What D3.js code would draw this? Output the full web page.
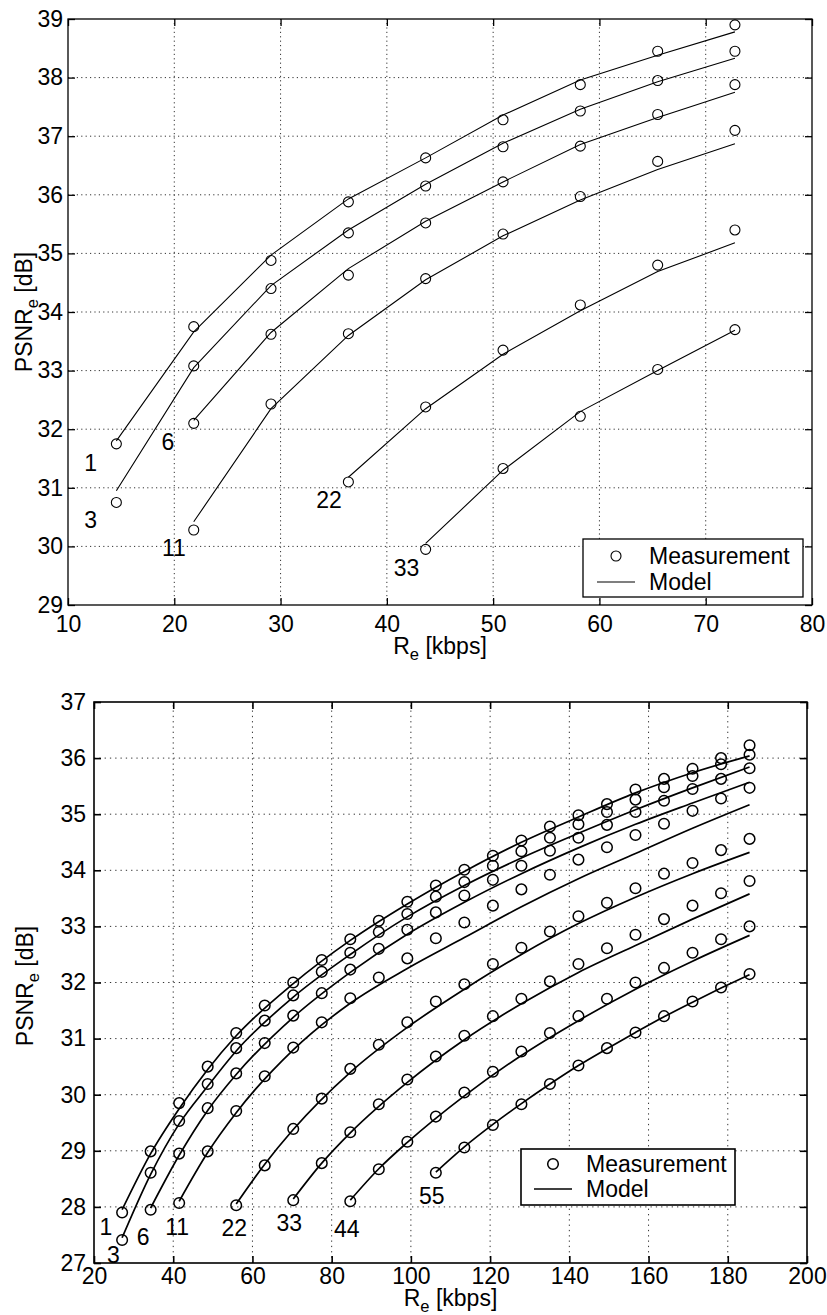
<!DOCTYPE html>
<html>
<head>
<meta charset="utf-8">
<script src="https://cdn.jsdelivr.net/npm/d3@7"></script>
<style>
body { margin: 0; background: #fff; }
text { font-family: "Liberation Sans", Arial, Helvetica, sans-serif; fill: #000; white-space: pre; }
</style>
</head>
<body>
<svg id="chart" width="827" height="1315"></svg>
<script>
// ---------- upper panel ----------
var topRates = [14.55, 21.83, 29.1, 36.38, 43.65, 50.93, 58.2, 65.48, 72.75];
var topXTicks = [10, 20, 30, 40, 50, 60, 70, 80];
var topYTicks = [29, 30, 31, 32, 33, 34, 35, 36, 37, 38, 39];

// measurement per curve (first value sits at topRates[start])
var topMeas1  = [31.75, 33.75, 34.88, 35.88, 36.63, 37.28, 37.88, 38.45, 38.9];
var topMeas3  = [30.75, 33.08, 34.4, 35.35, 36.15, 36.82, 37.43, 37.95, 38.45];
var topMeas6  = [32.1, 33.62, 34.63, 35.52, 36.22, 36.83, 37.37, 37.88];
var topMeas11 = [30.28, 32.43, 33.63, 34.57, 35.33, 35.97, 36.57, 37.1];
var topMeas22 = [31.1, 32.38, 33.35, 34.12, 34.8, 35.4];
var topMeas33 = [29.95, 31.33, 32.22, 33.02, 33.7];

// model per curve, same rates
var topModel1  = [31.8, 33.66, 34.97, 35.93, 36.63, 37.36, 37.96, 38.38, 38.78];
var topModel3  = [30.95, 33.05, 34.45, 35.4, 36.18, 36.88, 37.46, 37.93, 38.33];
var topModel6  = [32.15, 33.65, 34.74, 35.55, 36.22, 36.86, 37.32, 37.75];
var topModel11 = [30.42, 32.35, 33.6, 34.55, 35.3, 35.91, 36.43, 36.87];
var topModel22 = [31.18, 32.35, 33.28, 34.02, 34.69, 35.18];
var topModel33 = [30.05, 31.3, 32.3, 33.0, 33.69];

var topStart  = [0, 0, 1, 1, 3, 4];
var topNames  = ["1", "3", "6", "11", "22", "33"];
var topLabelX = [12.13, 12.13, 19.41, 19.97, 34.55, 41.86];
var topLabelY = [31.42, 30.45, 31.79, 29.97, 30.79, 29.63];

// ---------- lower panel ----------
var botRates = [27.1, 34.3, 41.5, 48.7, 55.9, 63.1, 70.3, 77.5, 84.7, 91.9, 99.1, 106.3,
                113.5, 120.7, 127.9, 135.1, 142.3, 149.5, 156.7, 163.9, 171.1, 178.3, 185.5];
var botXTicks = [20, 40, 60, 80, 100, 120, 140, 160, 180, 200];
var botYTicks = [27, 28, 29, 30, 31, 32, 33, 34, 35, 36, 37];

var botMeas1  = [27.9, 28.99, 29.85, 30.5, 31.1, 31.59, 32.0, 32.4, 32.77, 33.1, 33.44, 33.73,
                 34.01, 34.26, 34.53, 34.78, 34.98, 35.18, 35.44, 35.63, 35.81, 36.0, 36.23];
var botMeas3  = [27.41, 28.61, 29.53, 30.19, 30.83, 31.32, 31.77, 32.19, 32.53, 32.9, 33.22, 33.53,
                 33.79, 34.08, 34.34, 34.58, 34.82, 35.04, 35.26, 35.48, 35.68, 35.89, 36.06];
var botMeas6  = [27.95, 28.95, 29.76, 30.38, 30.92, 31.41, 31.81, 32.23, 32.6, 32.94, 33.25,
                 33.55, 33.83, 34.08, 34.35, 34.58, 34.81, 35.04, 35.24, 35.45, 35.63, 35.82];
var botMeas11 = [28.07, 28.99, 29.71, 30.33, 30.84, 31.29, 31.72, 32.09, 32.43, 32.79, 33.07,
                 33.37, 33.66, 33.92, 34.19, 34.41, 34.63, 34.83, 35.06, 35.28, 35.47];
var botMeas22 = [28.03, 28.74, 29.39, 29.93, 30.46, 30.89, 31.29, 31.66, 31.97, 32.33, 32.62,
                 32.91, 33.18, 33.42, 33.68, 33.94, 34.13, 34.36, 34.56];
var botMeas33 = [28.12, 28.78, 29.33, 29.83, 30.27, 30.68, 31.05, 31.4, 31.71, 32.02, 32.33,
                 32.61, 32.85, 33.13, 33.37, 33.59, 33.81];
var botMeas44 = [28.1, 28.67, 29.16, 29.61, 30.04, 30.41, 30.77, 31.1, 31.4, 31.71, 32.0,
                 32.26, 32.53, 32.77, 33.0];
var botMeas55 = [28.61, 29.06, 29.46, 29.83, 30.19, 30.52, 30.83, 31.11, 31.4, 31.66, 31.91, 32.15];

// model curves as [rate, psnr] knots
var botModel1  = [[27.1,27.95],[34.3,28.95],[41.5,29.75],[48.7,30.45],[55.9,31.05],[70.3,31.98],[84.7,32.75],
                  [99.1,33.4],[113.5,33.98],[127.9,34.5],[142.3,34.95],[156.7,35.38],[171.1,35.74],[185.5,36.04]];
var botModel3  = [[27.1,27.45],[34.3,28.58],[41.5,29.48],[48.7,30.15],[55.9,30.78],[70.3,31.74],[84.7,32.5],
                  [99.1,33.17],[113.5,33.73],[127.9,34.22],[142.3,34.66],[156.7,35.08],[171.1,35.47],[185.5,35.84]];
var botModel6  = [[34.3,27.98],[41.5,28.92],[48.7,29.72],[55.9,30.36],[70.3,31.38],[84.7,32.18],[99.1,32.86],
                  [113.5,33.43],[127.9,33.94],[142.3,34.4],[156.7,34.82],[171.1,35.2],[185.5,35.57]];
var botModel11 = [[41.5,28.1],[48.7,28.97],[55.9,29.68],[70.3,30.8],[84.7,31.63],[99.1,32.25],[113.5,32.8],
                  [127.9,33.35],[142.3,33.85],[156.7,34.3],[171.1,34.75],[185.5,35.17]];
var botModel22 = [[55.9,28.05],[63.1,28.76],[70.3,29.38],[84.7,30.4],[99.1,31.2],[113.5,31.88],[127.9,32.5],
                  [142.3,33.05],[156.7,33.52],[171.1,33.94],[185.5,34.32]];
var botModel33 = [[70.3,28.14],[77.5,28.78],[84.7,29.32],[99.1,30.22],[113.5,30.98],[127.9,31.62],[142.3,32.18],
                  [156.7,32.66],[171.1,33.13],[185.5,33.58]];
var botModel44 = [[84.7,28.12],[91.9,28.68],[99.1,29.15],[113.5,29.98],[127.9,30.7],[142.3,31.32],[156.7,31.88],
                  [171.1,32.38],[185.5,32.84]];
var botModel55 = [[106.3,28.62],[113.5,29.07],[120.7,29.47],[127.9,29.84],[135.1,30.19],[142.3,30.52],[149.5,30.82],
                  [156.7,31.11],[163.9,31.39],[171.1,31.65],[178.3,31.9],[185.5,32.14]];

var botStart  = [0, 0, 1, 2, 4, 6, 8, 11];
var botNames  = ["1", "3", "6", "11", "22", "33", "44", "55"];
var botLabelX = [23.0, 24.9, 32.4, 41.0, 55.4, 69.3, 83.8, 105.3];
var botLabelY = [27.65, 27.14, 27.47, 27.65, 27.62, 27.71, 27.61, 28.2];

var legendNames = ["Measurement", "Model"];

var svg = d3.select('#chart');
var FS = 23;

function subText(t, main, sub, rest) {
    t.append('tspan').text(main);
    t.append('tspan').attr('font-size', FS * 0.72).attr('dy', FS * 0.28).text(sub);
    t.append('tspan').attr('dy', -FS * 0.28).text(rest);
}

function drawPanel(p) {
    var x = d3.scaleLinear().domain([p.xTicks[0], p.xTicks[p.xTicks.length - 1]]).range(p.xRange);
    var y = d3.scaleLinear().domain([p.yTicks[0], p.yTicks[p.yTicks.length - 1]]).range(p.yRange);
    var g = svg.append('g');

    // dotted grid
    g.append('g').selectAll('line').data(p.xTicks.slice(1, -1)).enter().append('line')
      .attr('x1', function(d) { return x(d); }).attr('x2', function(d) { return x(d); })
      .attr('y1', p.yRange[0]).attr('y2', p.yRange[1])
      .attr('stroke', '#333').attr('stroke-width', 1).attr('stroke-dasharray', p.dash);
    g.append('g').selectAll('line').data(p.yTicks.slice(1, -1)).enter().append('line')
      .attr('y1', function(d) { return y(d); }).attr('y2', function(d) { return y(d); })
      .attr('x1', p.xRange[0]).attr('x2', p.xRange[1])
      .attr('stroke', '#333').attr('stroke-width', 1).attr('stroke-dasharray', p.dash);

    // axes with inward ticks
    function styleAxis(a) {
        a.attr('font-size', FS).attr('font-family', '"Liberation Sans", Arial, sans-serif');
        a.select('.domain').remove();
        a.selectAll('.tick line').attr('stroke', '#000').attr('stroke-width', p.frame);
    }
    g.append('g').attr('transform', 'translate(0,' + p.yRange[0] + ')')
      .call(d3.axisBottom(x).tickValues(p.xTicks).tickSize(-7).tickPadding(p.xPad).tickFormat(d3.format('d')))
      .call(styleAxis);
    g.append('g').attr('transform', 'translate(0,' + p.yRange[1] + ')')
      .call(d3.axisTop(x).tickValues(p.xTicks).tickSize(-7).tickFormat(''))
      .call(styleAxis);
    g.append('g').attr('transform', 'translate(' + p.xRange[0] + ',0)')
      .call(d3.axisLeft(y).tickValues(p.yTicks).tickSize(-7).tickPadding(p.yPad).tickFormat(d3.format('d')))
      .call(styleAxis);
    g.append('g').attr('transform', 'translate(' + p.xRange[1] + ',0)')
      .call(d3.axisRight(y).tickValues(p.yTicks).tickSize(-7).tickFormat(''))
      .call(styleAxis);
    g.selectAll('.tick text').attr('fill', '#000');

    // frame
    g.append('rect')
      .attr('x', p.xRange[0]).attr('y', p.yRange[1])
      .attr('width', p.xRange[1] - p.xRange[0]).attr('height', p.yRange[0] - p.yRange[1])
      .attr('fill', 'none').attr('stroke', '#000').attr('stroke-width', p.frame);

    var line = d3.line().x(function(d) { return x(d[0]); }).y(function(d) { return y(d[1]); });
    if (p.smooth) line.curve(d3.curveMonotoneX);

    // model lines
    g.append('g').selectAll('path').data(p.series).enter().append('path')
      .attr('d', function(s) { return line(s.model); })
      .attr('fill', 'none').attr('stroke', '#000').attr('stroke-width', p.lw);

    // measurement circles
    p.series.forEach(function(s) {
        g.append('g').selectAll('circle').data(s.meas).enter().append('circle')
          .attr('cx', function(d) { return x(d[0]); })
          .attr('cy', function(d) { return y(d[1]); })
          .attr('r', p.r)
          .attr('fill', 'none').attr('stroke', '#000').attr('stroke-width', p.cw);
    });

    // curve labels
    g.append('g').selectAll('text').data(p.series).enter().append('text')
      .attr('x', function(s) { return x(s.lx); })
      .attr('y', function(s) { return y(s.ly); })
      .attr('dy', '0.35em').attr('text-anchor', 'middle').attr('font-size', FS)
      .text(function(s) { return s.name; });

    // axis titles
    var xt = g.append('text').attr('x', (p.xRange[0] + p.xRange[1]) / 2).attr('y', p.xTitleY)
      .attr('text-anchor', 'middle').attr('font-size', FS);
    subText(xt, 'R', 'e', ' [kbps]');
    var yt = g.append('text')
      .attr('transform', 'translate(' + p.yTitleX + ',' + p.yTitleCy + ') rotate(-90)')
      .attr('text-anchor', 'middle').attr('font-size', FS);
    subText(yt, 'PSNR', 'e', ' [dB]');

    // legend
    var L = p.legend;
    var lg = g.append('g');
    lg.append('rect').attr('x', L.x).attr('y', L.y).attr('width', L.w).attr('height', L.h)
      .attr('fill', '#fff').attr('stroke', '#000').attr('stroke-width', p.frame);
    lg.append('circle').attr('cx', L.x + L.mark).attr('cy', L.y + L.row1).attr('r', p.r)
      .attr('fill', 'none').attr('stroke', '#000').attr('stroke-width', p.cw);
    lg.append('line').attr('x1', L.x + L.mark - L.half).attr('x2', L.x + L.mark + L.half)
      .attr('y1', L.y + L.row2).attr('y2', L.y + L.row2)
      .attr('stroke', '#000').attr('stroke-width', p.lw);
    lg.selectAll('text').data(legendNames).enter().append('text')
      .attr('x', L.x + L.tx)
      .attr('y', function(d, i) { return L.y + (i === 0 ? L.row1 : L.row2); })
      .attr('dy', '0.33em').attr('font-size', FS)
      .text(function(d) { return d; });
}

function buildTop() {
    var meas = [topMeas1, topMeas3, topMeas6, topMeas11, topMeas22, topMeas33];
    var model = [topModel1, topModel3, topModel6, topModel11, topModel22, topModel33];
    return topNames.map(function(n, k) {
        var st = topStart[k];
        return {
            name: n,
            meas: meas[k].map(function(v, i) { return [topRates[st + i], v]; }),
            model: model[k].map(function(v, i) { return [topRates[st + i], v]; }),
            lx: topLabelX[k], ly: topLabelY[k]
        };
    });
}

function buildBot() {
    var meas = [botMeas1, botMeas3, botMeas6, botMeas11, botMeas22, botMeas33, botMeas44, botMeas55];
    var model = [botModel1, botModel3, botModel6, botModel11, botModel22, botModel33, botModel44, botModel55];
    return botNames.map(function(n, k) {
        var st = botStart[k];
        return {
            name: n,
            meas: meas[k].map(function(v, i) { return [botRates[st + i], v]; }),
            model: model[k],
            lx: botLabelX[k], ly: botLabelY[k]
        };
    });
}

drawPanel({
    xTicks: topXTicks, yTicks: topYTicks,
    xRange: [68, 812], yRange: [605, 19],
    xPad: 11, yPad: 5, dash: '1.2,3.2', frame: 1.3, lw: 1.1, cw: 1.1, r: 5, smooth: false,
    xTitleY: 654, yTitleX: 32, yTitleCy: 312,
    series: buildTop(),
    legend: { x: 583, y: 539, w: 220, h: 58, mark: 33, half: 19, row1: 17, row2: 43, tx: 66 }
});

drawPanel({
    xTicks: botXTicks, yTicks: botYTicks,
    xRange: [94, 807], yRange: [1263, 702],
    xPad: 5, yPad: 8, dash: '1.3,4', frame: 1.6, lw: 1.7, cw: 1.5, r: 5.3, smooth: true,
    xTitleY: 1306, yTitleX: 33, yTitleCy: 986,
    series: buildBot(),
    legend: { x: 521, y: 1149, w: 214, h: 56, mark: 32, half: 19, row1: 15, row2: 40, tx: 65 }
});
</script>
</body>
</html>
